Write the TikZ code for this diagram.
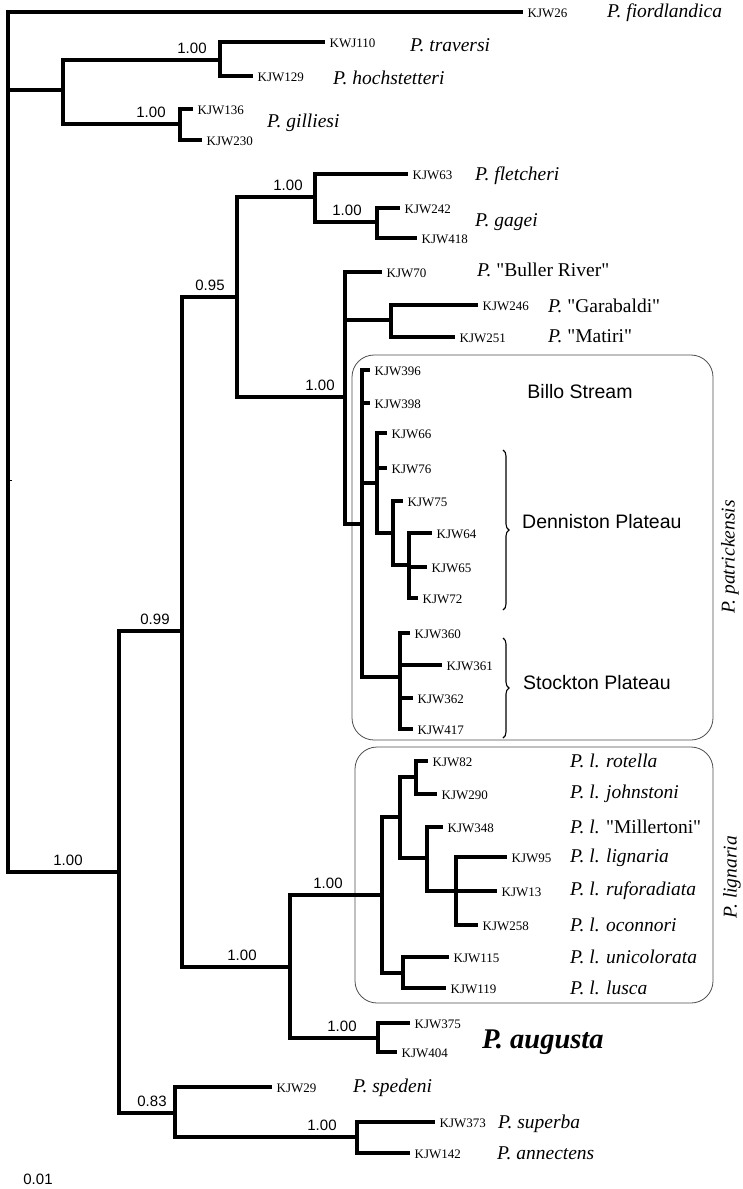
\documentclass[tikz,border=0pt]{standalone}
\usepackage{fontspec}
\setmainfont{Liberation Serif}
\setsansfont{Liberation Sans}
\newfontfamily\straightrm{Liberation Serif}
\usepackage{tikz}
\usetikzlibrary{positioning, decorations.pathreplacing}

\newcommand{\dq}{{\straightrm\symbol{34}}}

\tikzset{
  branch/.style={line width=3.2pt, line join=miter},
  tip/.style={anchor=west, inner sep=0pt, xshift=4.5pt, yshift=-1.5pt, font=\fontsize{13}{13}\selectfont},
  taxon/.style={anchor=west, inner sep=0pt, font=\fontsize{19.5}{19.5}\selectfont\itshape},
  post/.style={anchor=south, inner sep=0pt, font=\sffamily\fontsize{15}{15}\selectfont},
  site/.style={inner sep=0pt, font=\sffamily\fontsize{19.5}{19.5}\selectfont},
  clade/.style={draw=black!70, line width=0.8pt, rounded corners=22pt},
  bracket/.style={decorate, decoration={brace, amplitude=6pt}, line width=1.1pt},
}

\begin{document}
\begin{tikzpicture}[x=1pt, y=-1pt]
  \useasboundingbox (0,0) rectangle (743,1189);

  % Clade boxes
  \draw[clade] (352,355) rectangle (713,740);
  \draw[clade] (355,747) rectangle (713,1003);

  % Internal nodes
  \coordinate (root) at (8,480);
  \coordinate (nTH) at (63,90);
  \coordinate (nTr) at (220,60);
  \coordinate (nGi) at (180,124);
  \coordinate (nBig) at (119,872);
  \coordinate (n99) at (182,631);
  \coordinate (n95) at (237,297);
  \coordinate (nFG) at (315,197);
  \coordinate (nGa) at (377,222);
  \coordinate (nPat) at (345,397);
  \coordinate (nGM) at (391,320);
  \coordinate (nPk) at (362,524);
  \coordinate (nDen) at (377,483);
  \coordinate (nD2) at (393,533);
  \coordinate (nD3) at (409,565);
  \coordinate (nSto) at (400,677);
  \coordinate (nLA) at (290,967);
  \coordinate (nLig) at (382,895);
  \coordinate (nL1) at (400,817);
  \coordinate (nRJ) at (416,777);
  \coordinate (nMil) at (427,858);
  \coordinate (nL3) at (456,891);
  \coordinate (nL2) at (403,973);
  \coordinate (nAug) at (378,1038);
  \coordinate (n83) at (175,1113);
  \coordinate (nSA) at (357,1137);

  % Leaves (branch tips + specimen numbers)
  \coordinate (k110) at (325,42);
  \node[tip] (lab110) at (k110) {KWJ110};
  \foreach \id/\x/\y in {26/523/12, 129/253/76, 136/193/109, 230/202/140,
      63/408/174, 242/400/208, 418/417/238, 70/382/272, 246/478/305, 251/455/337,
      396/370/370, 398/370/403, 66/387/433, 76/387/468, 75/403/501, 64/432/533,
      65/427/567, 72/418/598, 360/410/633, 361/442/665, 362/413/698, 417/413/729,
      82/428/761, 290/437/794, 348/443/827, 95/507/857, 13/497/891, 258/478/925,
      115/449/957, 119/446/988, 375/410/1023, 404/397/1052, 29/272/1087,
      373/435/1122, 142/410/1153}{
    \coordinate (k\id) at (\x,\y);
    \node[tip] (lab\id) at (k\id) {KJW\id};
  }

  % Branches
  \draw[line width=1pt] (root) -- ++(4,0);
  \draw[branch] (root) |- (k26) (root) |- (nTH) (root) |- (nBig);
  \draw[branch] (nTH) |- (nTr) (nTH) |- (nGi);
  \draw[branch] (nTr) |- (k110) (nTr) |- (k129);
  \draw[branch] (nGi) |- (k136) (nGi) |- (k230);
  \draw[branch] (nBig) |- (n99) (nBig) |- (n83);
  \draw[branch] (n99) |- (n95) (n99) |- (nLA);
  \draw[branch] (n95) |- (nFG) (n95) |- (nPat);
  \draw[branch] (nFG) |- (k63) (nFG) |- (nGa);
  \draw[branch] (nGa) |- (k242) (nGa) |- (k418);
  \draw[branch] (nPat) |- (k70) (nPat) |- (nGM) (nPat) |- (nPk);
  \draw[branch] (nGM) |- (k246) (nGM) |- (k251);
  \draw[branch] (nPk) |- (k396) (nPk) |- (k398) (nPk) |- (nDen) (nPk) |- (nSto);
  \draw[branch] (nDen) |- (k66) (nDen) |- (k76) (nDen) |- (nD2);
  \draw[branch] (nD2) |- (k75) (nD2) |- (nD3);
  \draw[branch] (nD3) |- (k64) (nD3) |- (k65) (nD3) |- (k72);
  \draw[branch] (nSto) |- (k360) (nSto) |- (k361) (nSto) |- (k362) (nSto) |- (k417);
  \draw[branch] (nLA) |- (nLig) (nLA) |- (nAug);
  \draw[branch] (nLig) |- (nL1) (nLig) |- (nL2);
  \draw[branch] (nL1) |- (nRJ) (nL1) |- (nMil);
  \draw[branch] (nRJ) |- (k82) (nRJ) |- (k290);
  \draw[branch] (nMil) |- (k348) (nMil) |- (nL3);
  \draw[branch] (nL3) |- (k95) (nL3) |- (k13) (nL3) |- (k258);
  \draw[branch] (nL2) |- (k115) (nL2) |- (k119);
  \draw[branch] (nAug) |- (k375) (nAug) |- (k404);
  \draw[branch] (n83) |- (k29) (n83) |- (nSA);
  \draw[branch] (nSA) |- (k373) (nSA) |- (k142);

  % Posterior probabilities
  \node[post] (p1) at (192,54) {1.00};
  \node[post] (p2) at (151,118) {1.00};
  \node[post] (p3) at (288,191) {1.00};
  \node[post] (p4) at (347,216) {1.00};
  \node[post] (p5) at (210,291) {0.95};
  \node[post] (p6) at (320,391) {1.00};
  \node[post] (p7) at (155,625) {0.99};
  \node[post] (p8) at (68,866) {1.00};
  \node[post] (p9) at (328,889) {1.00};
  \node[post] (p10) at (242,961) {1.00};
  \node[post] (p11) at (342,1032) {1.00};
  \node[post] (p12) at (152,1107) {0.83};
  \node[post] (p13) at (322,1131) {1.00};

  % Species names
  \node[taxon] (fio) at (607,13) {P. fiordlandica};
  \node[taxon] (tra) at (410,45) {P. traversi};
  \node[taxon] (hoc) at (333,78) {P. hochstetteri};
  \node[taxon] (gil) at (267,123) {P. gilliesi};
  \node[taxon] (fle) at (475,176) {P. fletcheri};
  \node[taxon] (gag) at (475,222) {P. gagei};
  \node[taxon] (bul) at (477,270) {P. \textup{\dq Buller River\dq}};
  \node[taxon] (gar) at (548,306) {P. \textup{\dq Garabaldi\dq}};
  \node[taxon] (mat) at (548,336) {P. \textup{\dq Matiri\dq}};
  \node[taxon] (rot) at (570,761) {P. l. rotella};
  \node[taxon] (joh) at (570,794) {P. l. johnstoni};
  \node[taxon] (mil) at (570,827) {P. l. \textup{\dq Millertoni\dq}};
  \node[taxon] (lig) at (570,858) {P. l. lignaria};
  \node[taxon] (ruf) at (570,891) {P. l. ruforadiata};
  \node[taxon] (oco) at (570,925) {P. l. oconnori};
  \node[taxon] (uni) at (570,957) {P. l. unicolorata};
  \node[taxon] (lus) at (570,988) {P. l. lusca};
  \node[taxon, font=\fontsize{28.5}{28.5}\selectfont\bfseries\itshape] (aug) at (482,1042) {P. augusta};
  \node[taxon] (spe) at (353,1088) {P. spedeni};
  \node[taxon] (sup) at (498,1124) {P. superba};
  \node[taxon] (ann) at (497,1153) {P. annectens};

  % Localities
  \node[site] (billo) at (580,392) {Billo Stream};
  \draw[bracket] (503,450) -- (503,610);
  \node[site, anchor=west] (denn) at (522,522) {Denniston Plateau};
  \draw[bracket] (503,638) -- (503,738);
  \node[site, anchor=west] (stock) at (523,683) {Stockton Plateau};

  % Clade names
  \node[taxon, anchor=center, rotate=90] (patr) at (730,557) {P. patrickensis};
  \node[taxon, anchor=center, rotate=90] (lign) at (732,877) {P. lignaria};

  \node[post, anchor=center] (scale) at (38,1179) {0.01};
\end{tikzpicture}
\end{document}
